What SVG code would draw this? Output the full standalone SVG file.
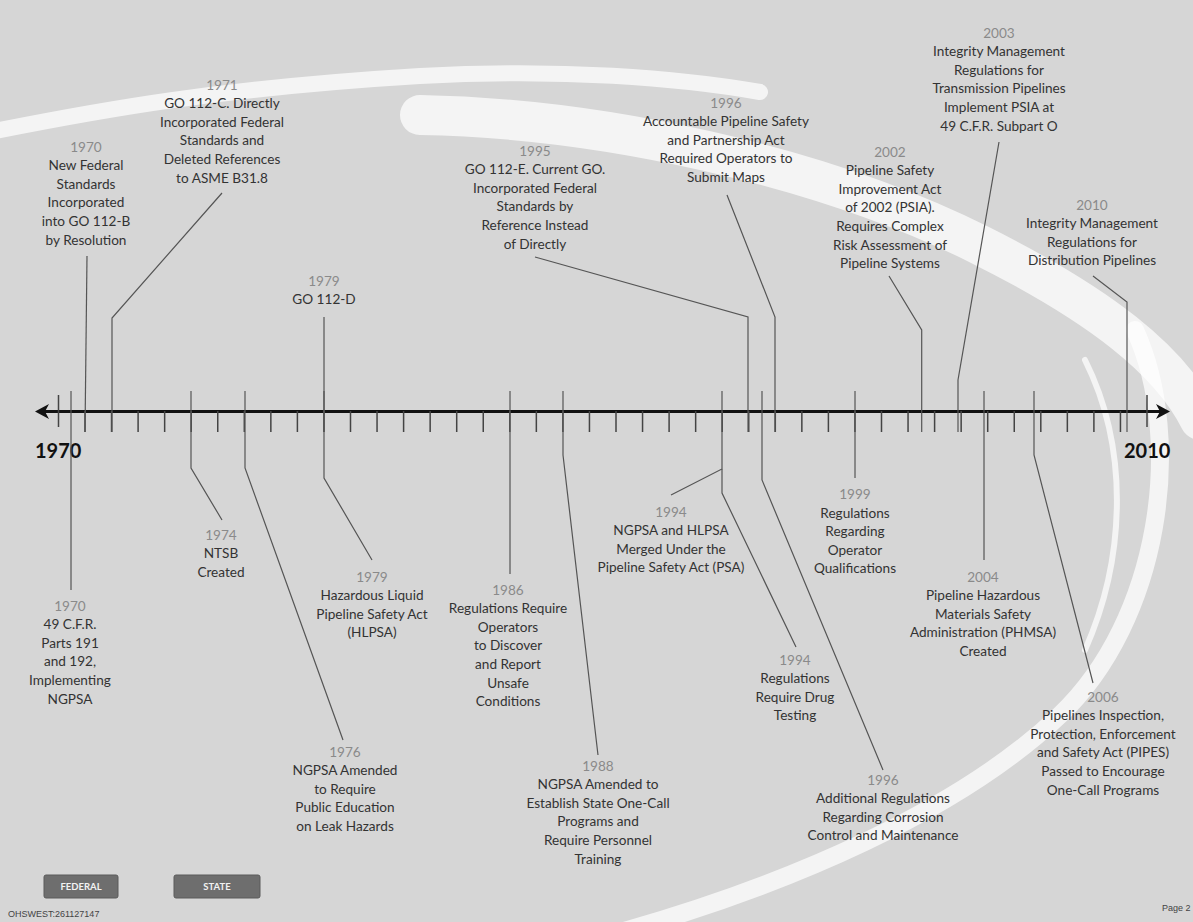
<svg xmlns="http://www.w3.org/2000/svg" width="1193" height="922" viewBox="0 0 1193 922">
<defs>
<style>
.t{font-family:Lato,"Open Sans","DejaVu Sans",sans-serif;font-size:13.6px;fill:#333;text-anchor:middle}
.y{fill:#8a8a8a}
.big{font-family:Lato,"DejaVu Sans",sans-serif;font-size:20px;font-weight:bold;fill:#111}
.c{fill:none;stroke:#555;stroke-width:1.2}
.tick{fill:none;stroke:#444;stroke-width:1.5}
.sw{fill:none;stroke:#fff;stroke-linecap:round;opacity:0.72}
.btn{fill:#6e6e6e;stroke:#5a5a5a;stroke-width:1}
.bt{font-family:Lato,"DejaVu Sans",sans-serif;font-size:9.5px;font-weight:bold;fill:#f2f2f2;text-anchor:middle}
.sm{font-family:"Liberation Sans",sans-serif;font-size:9px;fill:#444}
</style>
</defs>
<g id="background">
<rect x="0" y="0" width="1193" height="922" fill="#d6d6d6"/>
<path class="sw" stroke-width="16" d="M-10,132 C100,110 220,88 420,76 C560,68 680,78 760,92"/>
<path class="sw" stroke-width="40" d="M420,115 C600,118 820,165 980,245 C1100,305 1170,360 1200,420"/>
<path class="sw" stroke-width="18" d="M1135,330 C1185,440 1160,620 1060,715 C960,810 790,885 610,935"/>
<path class="sw" stroke-width="6" d="M1085,360 C1130,450 1125,560 1085,650"/>
</g>
<g id="axis">
<line x1="44" y1="411.5" x2="1160" y2="411.5" stroke="#111" stroke-width="3"/>
<polygon points="35,411.5 49,404 45,411.5 49,419" fill="#111"/>
<polygon points="1170,411.5 1156,404 1160,411.5 1156,419" fill="#111"/>
<path class="tick" d="M58.5 395V427M85 411V432M111.55 411V432M138.1 411V432M164.65 411V432M191.2 411V432M217.75 411V432M244.3 411V432M270.85 411V432M297.4 411V432M323.95 411V432M350.5 411V432M377.05 411V432M403.6 411V432M430.15 411V432M456.7 411V432M483.25 411V432M509.8 411V432M536.35 411V432M562.9 411V432M589.45 411V432M616 411V432M642.55 411V432M669.1 411V432M695.65 411V432M722.2 411V432M748.75 411V432M775.3 411V432M801.85 411V432M828.4 411V432M854.95 411V432M881.5 411V432M908.05 411V432M934.6 411V432M961.15 411V432M987.7 411V432M1014.25 411V432M1040.8 411V432M1067.35 411V432M1093.9 411V432M1120.45 411V432M1147 395V427"/>
<text class="big" x="35" y="458">1970</text>
<text class="big" x="1124" y="458">2010</text>
</g>
<g id="connectors">
<polyline class="c" points="87,256 85,432"/>
<polyline class="c" points="222,193 112,318 112,432"/>
<polyline class="c" points="324,317 324,432"/>
<polyline class="c" points="535,257 748,317 748,432"/>
<polyline class="c" points="727,195 775,317 775,432"/>
<polyline class="c" points="889,276 921.7,330 921.7,432"/>
<polyline class="c" points="999,142 958,380 958,432"/>
<polyline class="c" points="1093,276 1127,302 1127,432"/>
<polyline class="c" points="71,391 71,590"/>
<polyline class="c" points="191,391 191,468 222,520"/>
<polyline class="c" points="245,391 245,468 343,740"/>
<polyline class="c" points="324,391 324,478 372,560"/>
<polyline class="c" points="510,391 510,574"/>
<polyline class="c" points="563,391 563,455 598,755"/>
<polyline class="c" points="722,391 722,469 671,495"/>
<polyline class="c" points="722,469 722,493 796,647"/>
<polyline class="c" points="762,391 762,480 883,770"/>
<polyline class="c" points="855,391 855,478"/>
<polyline class="c" points="984,391 984,560"/>
<polyline class="c" points="1034,391 1034,455 1093,683"/>
</g>
<g id="e1970-standards"><text class="t" x="86" y="151.5"><tspan class="y" x="86">1970</tspan><tspan x="86" dy="18.6">New Federal</tspan><tspan x="86" dy="18.6">Standards</tspan><tspan x="86" dy="18.6">Incorporated</tspan><tspan x="86" dy="18.6">into GO 112-B</tspan><tspan x="86" dy="18.6">by Resolution</tspan></text></g>
<g id="e1971"><text class="t" x="222" y="89.5"><tspan class="y" x="222">1971</tspan><tspan x="222" dy="18.6">GO 112-C. Directly</tspan><tspan x="222" dy="18.6">Incorporated Federal</tspan><tspan x="222" dy="18.6">Standards and</tspan><tspan x="222" dy="18.6">Deleted References</tspan><tspan x="222" dy="18.6">to ASME B31.8</tspan></text></g>
<g id="e1979-go112d"><text class="t" x="324" y="285.5"><tspan class="y" x="324">1979</tspan><tspan x="324" dy="18">GO 112-D</tspan></text></g>
<g id="e1995"><text class="t" x="535" y="155.5"><tspan class="y" x="535">1995</tspan><tspan x="535" dy="18.6">GO 112-E. Current GO.</tspan><tspan x="535" dy="18.6">Incorporated Federal</tspan><tspan x="535" dy="18.6">Standards by</tspan><tspan x="535" dy="18.6">Reference Instead</tspan><tspan x="535" dy="18.6">of Directly</tspan></text></g>
<g id="e1996-maps"><text class="t" x="726" y="107.5"><tspan class="y" x="726">1996</tspan><tspan x="726" dy="18.6">Accountable Pipeline Safety</tspan><tspan x="726" dy="18.6">and Partnership Act</tspan><tspan x="726" dy="18.6">Required Operators to</tspan><tspan x="726" dy="18.6">Submit Maps</tspan></text></g>
<g id="e2002"><text class="t" x="890" y="156.5"><tspan class="y" x="890">2002</tspan><tspan x="890" dy="18.6">Pipeline Safety</tspan><tspan x="890" dy="18.6">Improvement Act</tspan><tspan x="890" dy="18.6">of 2002 (PSIA).</tspan><tspan x="890" dy="18.6">Requires Complex</tspan><tspan x="890" dy="18.6">Risk Assessment of</tspan><tspan x="890" dy="18.6">Pipeline Systems</tspan></text></g>
<g id="e2003"><text class="t" x="999" y="37.5"><tspan class="y" x="999">2003</tspan><tspan x="999" dy="18.6">Integrity Management</tspan><tspan x="999" dy="18.6">Regulations for</tspan><tspan x="999" dy="18.6">Transmission Pipelines</tspan><tspan x="999" dy="18.6">Implement PSIA at</tspan><tspan x="999" dy="18.6">49 C.F.R. Subpart O</tspan></text></g>
<g id="e2010"><text class="t" x="1092" y="209.5"><tspan class="y" x="1092">2010</tspan><tspan x="1092" dy="18.6">Integrity Management</tspan><tspan x="1092" dy="18.6">Regulations for</tspan><tspan x="1092" dy="18.6">Distribution Pipelines</tspan></text></g>
<g id="e1970-cfr"><text class="t" x="70" y="610.5"><tspan class="y" x="70">1970</tspan><tspan x="70" dy="18.6">49 C.F.R.</tspan><tspan x="70" dy="18.6">Parts 191</tspan><tspan x="70" dy="18.6">and 192,</tspan><tspan x="70" dy="18.6">Implementing</tspan><tspan x="70" dy="18.6">NGPSA</tspan></text></g>
<g id="e1974"><text class="t" x="221" y="539.5"><tspan class="y" x="221">1974</tspan><tspan x="221" dy="18.6">NTSB</tspan><tspan x="221" dy="18.6">Created</tspan></text></g>
<g id="e1979-hlpsa"><text class="t" x="372" y="581.5"><tspan class="y" x="372">1979</tspan><tspan x="372" dy="18.6">Hazardous Liquid</tspan><tspan x="372" dy="18.6">Pipeline Safety Act</tspan><tspan x="372" dy="18.6">(HLPSA)</tspan></text></g>
<g id="e1976"><text class="t" x="345" y="756.5"><tspan class="y" x="345">1976</tspan><tspan x="345" dy="18.6">NGPSA Amended</tspan><tspan x="345" dy="18.6">to Require</tspan><tspan x="345" dy="18.6">Public Education</tspan><tspan x="345" dy="18.6">on Leak Hazards</tspan></text></g>
<g id="e1986"><text class="t" x="508" y="594.5"><tspan class="y" x="508">1986</tspan><tspan x="508" dy="18.6">Regulations Require</tspan><tspan x="508" dy="18.6">Operators</tspan><tspan x="508" dy="18.6">to Discover</tspan><tspan x="508" dy="18.6">and Report</tspan><tspan x="508" dy="18.6">Unsafe</tspan><tspan x="508" dy="18.6">Conditions</tspan></text></g>
<g id="e1988"><text class="t" x="598" y="770.5"><tspan class="y" x="598">1988</tspan><tspan x="598" dy="18.6">NGPSA Amended to</tspan><tspan x="598" dy="18.6">Establish State One-Call</tspan><tspan x="598" dy="18.6">Programs and</tspan><tspan x="598" dy="18.6">Require Personnel</tspan><tspan x="598" dy="18.6">Training</tspan></text></g>
<g id="e1994-psa"><text class="t" x="671" y="516.5"><tspan class="y" x="671">1994</tspan><tspan x="671" dy="18.6">NGPSA and HLPSA</tspan><tspan x="671" dy="18.6">Merged Under the</tspan><tspan x="671" dy="18.6">Pipeline Safety Act (PSA)</tspan></text></g>
<g id="e1994-drug"><text class="t" x="795" y="664.5"><tspan class="y" x="795">1994</tspan><tspan x="795" dy="18.6">Regulations</tspan><tspan x="795" dy="18.6">Require Drug</tspan><tspan x="795" dy="18.6">Testing</tspan></text></g>
<g id="e1996-corrosion"><text class="t" x="883" y="784.5"><tspan class="y" x="883">1996</tspan><tspan x="883" dy="18.6">Additional Regulations</tspan><tspan x="883" dy="18.6">Regarding Corrosion</tspan><tspan x="883" dy="18.6">Control and Maintenance</tspan></text></g>
<g id="e1999"><text class="t" x="855" y="499"><tspan class="y" x="855">1999</tspan><tspan x="855" dy="18.6">Regulations</tspan><tspan x="855" dy="18.6">Regarding</tspan><tspan x="855" dy="18.6">Operator</tspan><tspan x="855" dy="18.6">Qualifications</tspan></text></g>
<g id="e2004"><text class="t" x="983" y="581.5"><tspan class="y" x="983">2004</tspan><tspan x="983" dy="18.6">Pipeline Hazardous</tspan><tspan x="983" dy="18.6">Materials Safety</tspan><tspan x="983" dy="18.6">Administration (PHMSA)</tspan><tspan x="983" dy="18.6">Created</tspan></text></g>
<g id="e2006"><text class="t" x="1103" y="701.5"><tspan class="y" x="1103">2006</tspan><tspan x="1103" dy="18.6">Pipelines Inspection,</tspan><tspan x="1103" dy="18.6">Protection, Enforcement</tspan><tspan x="1103" dy="18.6">and Safety Act (PIPES)</tspan><tspan x="1103" dy="18.6">Passed to Encourage</tspan><tspan x="1103" dy="18.6">One-Call Programs</tspan></text></g>
<g id="legend-federal"><rect class="btn" x="44" y="875" width="74" height="23" rx="2"/><text class="bt" x="81" y="890">FEDERAL</text></g>
<g id="legend-state"><rect class="btn" x="174" y="875" width="86" height="23" rx="2"/><text class="bt" x="217" y="890">STATE</text></g>
<g id="footer"><text class="sm" x="8" y="917">OHSWEST:261127147</text><text class="sm" x="1162" y="911">Page 2</text></g>
</svg>
